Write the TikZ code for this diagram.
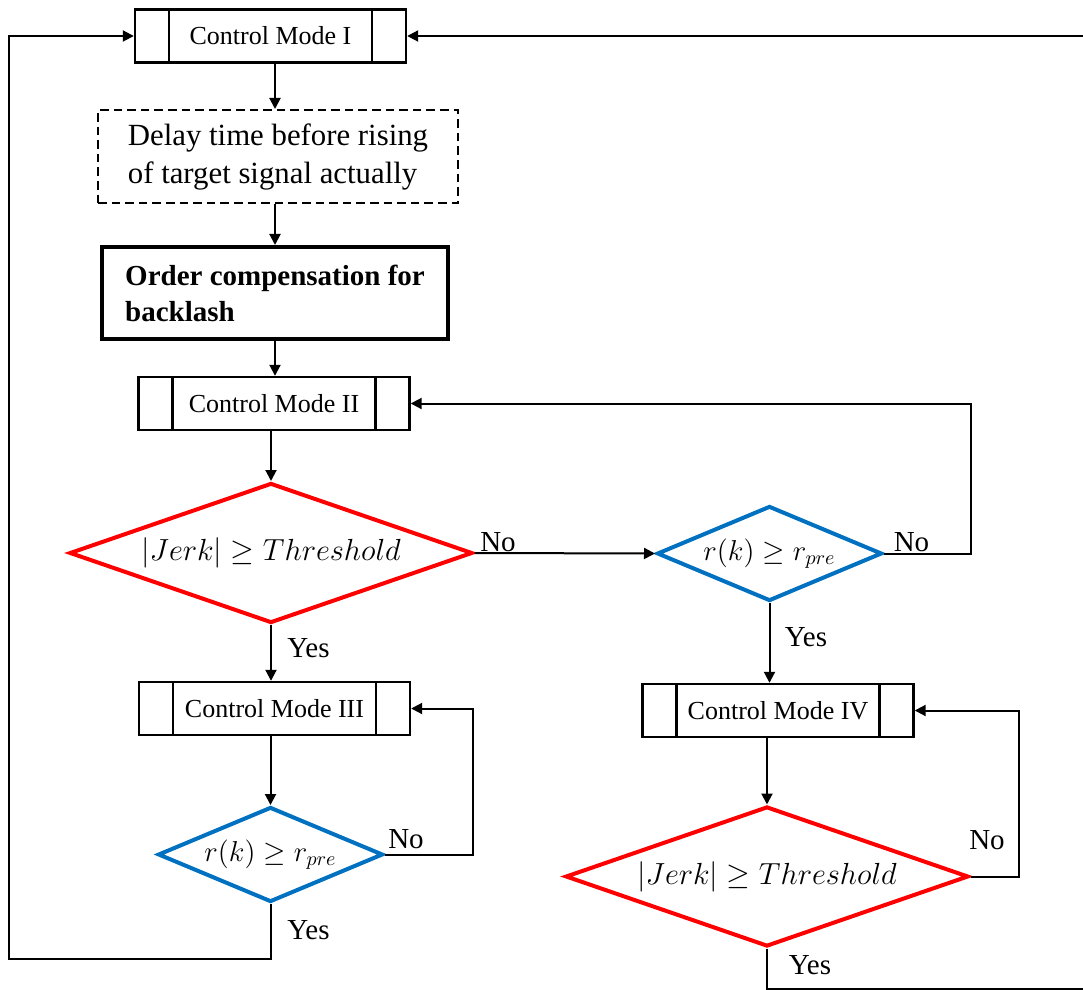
\documentclass[tikz,border=0pt]{standalone}
\usepackage{fontspec}
\setmainfont{Liberation Serif}
\usepackage{tikz}
\usetikzlibrary{arrows.meta, positioning, shapes.geometric}

\definecolor{jerkred}{RGB}{255,0,0}
\definecolor{rkblue}{RGB}{0,112,192}

\begin{document}
\begin{tikzpicture}[
		x=0.5pt, y=-0.5pt,
		modebox/.style={
			draw,
			line width=1.2pt,
			minimum width=135.5pt,
			minimum height=26.5pt,
			inner sep=0pt,
			font=\fontsize{13}{15}\selectfont,
			path picture={
				\draw[line width=1.2pt]
					([xshift=17pt]path picture bounding box.north west) -- ([xshift=17pt]path picture bounding box.south west)
					([xshift=-17pt]path picture bounding box.north east) -- ([xshift=-17pt]path picture bounding box.south east);
			}
		},
		decision/.style={diamond, draw, line width=2pt, inner sep=0pt},
		jerktest/.style={
			decision,
			draw=jerkred,
			aspect=2.88,
			minimum width=201.5pt,
			minimum height=70pt,
			font=\fontsize{14.4}{18}\selectfont
		},
		rtest/.style={
			decision,
			draw=rkblue,
			aspect=2.37,
			minimum width=112.5pt,
			minimum height=47.5pt,
			font=\fontsize{14}{16}\selectfont
		},
		flow/.style={line width=1pt, -{Triangle[length=5.5pt,width=5.5pt]}},
		answer/.style={inner sep=0pt, font=\fontsize{14.5}{17}\selectfont}
	]
		\useasboundingbox (0,0) rectangle (1083,990);

		\node[modebox] (mode1) at (270.5,36) {Control Mode I};
		\node[
			draw,
			line width=1pt,
			dash pattern=on 4.3pt off 2.5pt,
			minimum width=180pt,
			minimum height=46.5pt,
			align=left,
			font=\fontsize{15.4}{19}\selectfont
		] (delay) at (278,156.5) {%
			Delay time before rising\\
			of target signal actually
		};
		\node[
			draw,
			line width=2pt,
			minimum width=173pt,
			minimum height=46pt,
			align=left,
			font=\bfseries\fontsize{14.5}{18}\selectfont
		] (backlash) at (275,293) {%
			Order compensation for\\
			backlash
		};
		\node[modebox] (mode2) at (274,403.5) {Control Mode II};
		\node[jerktest] (jerk1) at (271,553) {\scalebox{1.06}{$|Jerk| \geq Threshold$}};
		\node[rtest] (rk1) at (769.5,553.5) {$r(k) \geq r_{pre}$};
		\node[modebox] (mode3) at (274.5,708.5) {Control Mode III};
		\node[rtest] (rk2) at (270.5,854.5) {$r(k) \geq r_{pre}$};
		\node[modebox] (mode4) at (778,710.5) {Control Mode IV};
		\node[jerktest] (jerk2) at (767,876.5) {\scalebox{1.06}{$|Jerk| \geq Threshold$}};

		\node[answer] (yes1) at (308.5,648) {Yes};
		\node[answer] (no1) at (498,542) {No};
		\node[answer] (no2) at (911.5,542) {No};
		\node[answer] (yes2) at (806,637) {Yes};
		\node[answer] (no3) at (406,839) {No};
		\node[answer] (yes3) at (308.5,930) {Yes};
		\node[answer] (no4) at (987,840) {No};
		\node[answer] (yes4) at (810,965) {Yes};

		\coordinate (rk1loop) at (971,403.5);
		\coordinate (rk2loop) at (473,708.5);
		\coordinate (jerk2loop) at (1019,710.5);
		\coordinate (leftrail) at (9,959);
		\coordinate (rightrail) at (1093,989);

		\draw[flow] (mode1.south -| backlash.north) -- (delay.north -| backlash.north);
		\draw[flow] (delay.south -| backlash.north) -- (backlash.north);
		\draw[flow] (backlash.south) -- (mode2.north -| backlash.south);
		\draw[flow] (mode2.south -| jerk1.north) -- (jerk1.north);
		\draw[flow] (jerk1.south) -- (jerk1.south |- mode3.north);
		\draw[flow] (jerk1.east) -- (rk1.west);
		\draw[flow] (rk1.east) -| (rk1loop) -- (mode2.east);
		\draw[flow] (rk1.south) -- (rk1.south |- mode4.north);
		\draw[flow] (mode3.south -| rk2.north) -- (rk2.north);
		\draw[flow] (rk2.east) -| (rk2loop) -- (mode3.east);
		\draw[flow] (rk2.south) |- (leftrail) |- (mode1.west);
		\draw[flow] (mode4.south -| jerk2.north) -- (jerk2.north);
		\draw[flow] (jerk2.east) -| (jerk2loop) -- (mode4.east);
		\draw[flow] (jerk2.south) |- (rightrail) |- (mode1.east);
	\end{tikzpicture}
\end{document}
